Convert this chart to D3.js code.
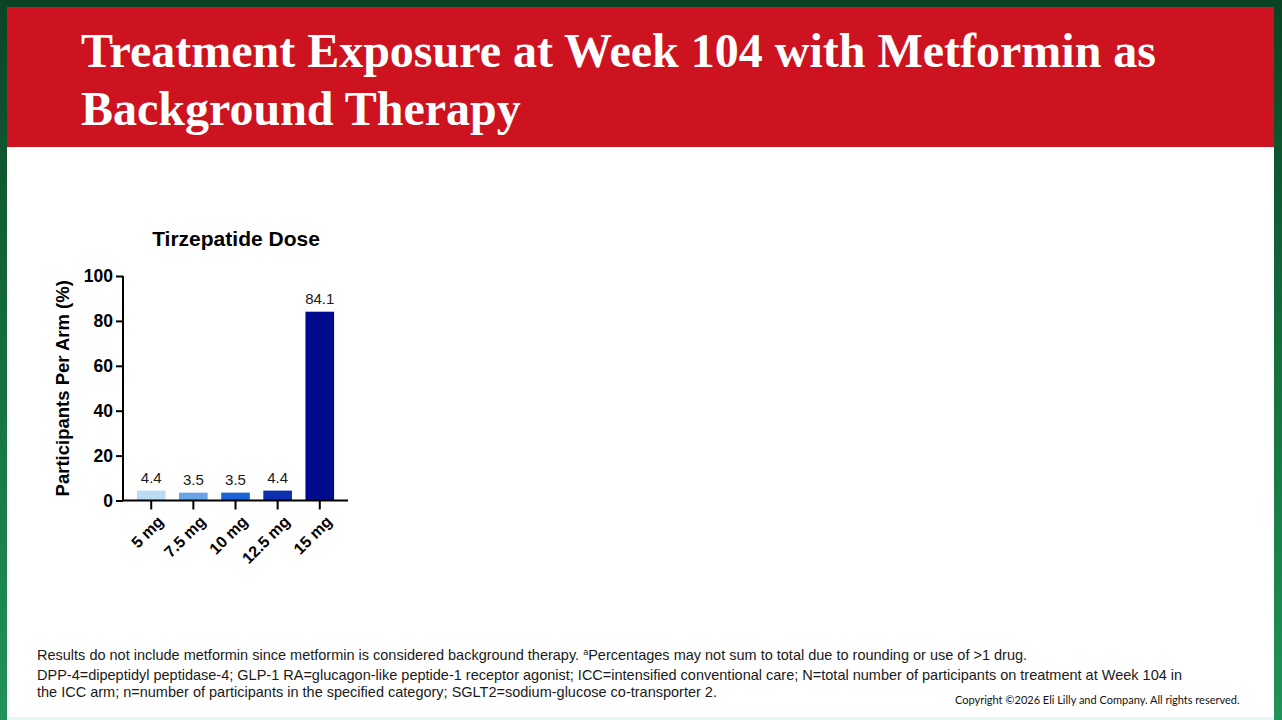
<!DOCTYPE html>
<html>
<head>
<meta charset="utf-8">
<script src="https://cdn.jsdelivr.net/npm/d3@7"></script>
<style>
  html, body { margin: 0; padding: 0; overflow: hidden; background: #fff; }
  svg { display: block; }
</style>
</head>
<body>
<svg id="slide" width="1282" height="720"></svg>
<script>
// chart values
var doses = ["5 mg", "7.5 mg", "10 mg", "12.5 mg", "15 mg"];
var percents = [4.4, 3.5, 3.5, 4.4, 84.1];
var barColors = ["#b9dcf4", "#6aa4e4", "#1a62d8", "#0d30b0", "#000a8c"];
var yTicks = [0, 20, 40, 60, 80, 100];

var titleLines = [
  "Treatment Exposure at Week 104 with Metformin as",
  "Background Therapy"
];

var W = 1282, H = 720;
var svg = d3.select("#slide");

// green frame round the slide
var defs = svg.append("defs");
var grad = defs.append("linearGradient")
  .attr("id", "frame")
  .attr("x1", 0).attr("y1", 0).attr("x2", 0).attr("y2", 1);
grad.append("stop").attr("offset", "0%").attr("stop-color", "#0a4324");
grad.append("stop").attr("offset", "45%").attr("stop-color", "#146b3c");
grad.append("stop").attr("offset", "100%").attr("stop-color", "#22925a");

svg.append("rect").attr("width", W).attr("height", H).attr("fill", "url(#frame)");
svg.append("rect")
  .attr("x", 7).attr("y", 7)
  .attr("width", 1267).attr("height", 711)
  .attr("fill", "#ffffff");
svg.append("rect")
  .attr("x", 7).attr("y", 717)
  .attr("width", 1267).attr("height", 3)
  .attr("fill", "#e6f6f4");

// red header band
svg.append("rect")
  .attr("x", 7).attr("y", 7)
  .attr("width", 1267).attr("height", 140)
  .attr("fill", "#cc131f");

svg.append("g")
  .selectAll("text")
  .data(titleLines)
  .join("text")
  .attr("x", 81)
  .attr("y", (d, i) => 67 + i * 58)
  .attr("fill", "#ffffff")
  .style("font-family", "'Liberation Serif', 'Times New Roman', serif")
  .style("font-weight", "bold")
  .style("font-size", "48px")
  .text(d => d);

// bar chart
var x = d3.scaleBand()
  .domain(doses)
  .range([123, 348])
  .paddingInner(0.32)
  .paddingOuter(0.33);

var y = d3.scaleLinear()
  .domain([0, 100])
  .range([500.5, 276]);

var chart = svg.append("g");

chart.selectAll("rect.bar")
  .data(percents)
  .join("rect")
  .attr("class", "bar")
  .attr("x", (d, i) => x(doses[i]))
  .attr("width", x.bandwidth())
  .attr("y", d => y(d))
  .attr("height", d => y(0) - y(d))
  .attr("fill", (d, i) => barColors[i]);

chart.selectAll("text.val")
  .data(percents)
  .join("text")
  .attr("class", "val")
  .attr("x", (d, i) => x(doses[i]) + x.bandwidth() / 2)
  .attr("y", d => y(d) - 8)
  .attr("text-anchor", "middle")
  .attr("fill", "#1a1a1a")
  .style("font-family", "'Liberation Sans', Arial, sans-serif")
  .style("font-size", "15px")
  .text(d => d.toFixed(1));

var yAxis = chart.append("g")
  .attr("transform", "translate(123,0)")
  .call(d3.axisLeft(y).tickValues(yTicks).tickSize(7).tickPadding(3));

var xAxis = chart.append("g")
  .attr("transform", "translate(0," + y(0) + ")")
  .call(d3.axisBottom(x).tickSize(9).tickSizeOuter(0).tickPadding(4));

[yAxis, xAxis].forEach(function (a) {
  a.select(".domain").attr("stroke", "#000").attr("stroke-width", 2);
  a.selectAll(".tick line").attr("stroke", "#000").attr("stroke-width", 2);
  a.selectAll("text")
    .attr("fill", "#000")
    .style("font-family", "'Liberation Sans', Arial, sans-serif")
    .style("font-weight", "bold");
});
yAxis.select(".domain").attr("d", "M0," + y(0) + "V" + y(100));
yAxis.selectAll("text").style("font-size", "17.5px");
xAxis.select(".domain").attr("d", "M122," + 0 + "H348");
xAxis.selectAll("text")
  .style("font-size", "16px")
  .attr("text-anchor", "end")
  .attr("dy", null)
  .attr("transform", "translate(4,13) rotate(-45)");

chart.append("text")
  .attr("transform", "translate(69," + (y(0) + y(100)) / 2 + ") rotate(-90)")
  .attr("text-anchor", "middle")
  .attr("fill", "#000")
  .style("font-family", "'Liberation Sans', Arial, sans-serif")
  .style("font-weight", "bold")
  .style("font-size", "18.5px")
  .text("Participants Per Arm (%)");

chart.append("text")
  .attr("x", 236)
  .attr("y", 246)
  .attr("text-anchor", "middle")
  .attr("fill", "#000")
  .style("font-family", "'Liberation Sans', Arial, sans-serif")
  .style("font-weight", "bold")
  .style("font-size", "21px")
  .text("Tirzepatide Dose");

// footnotes
var notes = svg.append("g")
  .style("font-family", "'Liberation Sans', Arial, sans-serif")
  .style("font-size", "14.5px")
  .attr("fill", "#1a1a1a");

var n1 = notes.append("text").attr("x", 37).attr("y", 660);
n1.append("tspan").text("Results do not include metformin since metformin is considered background therapy. ");
n1.append("tspan").attr("baseline-shift", "super").style("font-size", "9px").text("a");
n1.append("tspan").text("Percentages may not sum to total due to rounding or use of >1 drug.");

notes.append("text").attr("x", 37).attr("y", 680)
  .text("DPP-4=dipeptidyl peptidase-4; GLP-1 RA=glucagon-like peptide-1 receptor agonist; ICC=intensified conventional care; N=total number of participants on treatment at Week 104 in");
notes.append("text").attr("x", 37).attr("y", 697)
  .text("the ICC arm; n=number of participants in the specified category; SGLT2=sodium-glucose co-transporter 2.");

svg.append("text")
  .attr("x", 955).attr("y", 704)
  .attr("fill", "#111")
  .style("font-family", "Lato, 'Open Sans', sans-serif")
  .style("font-size", "11px")
  .text("Copyright \u00a92026 Eli Lilly and Company. All rights reserved.");
</script>
</body>
</html>
